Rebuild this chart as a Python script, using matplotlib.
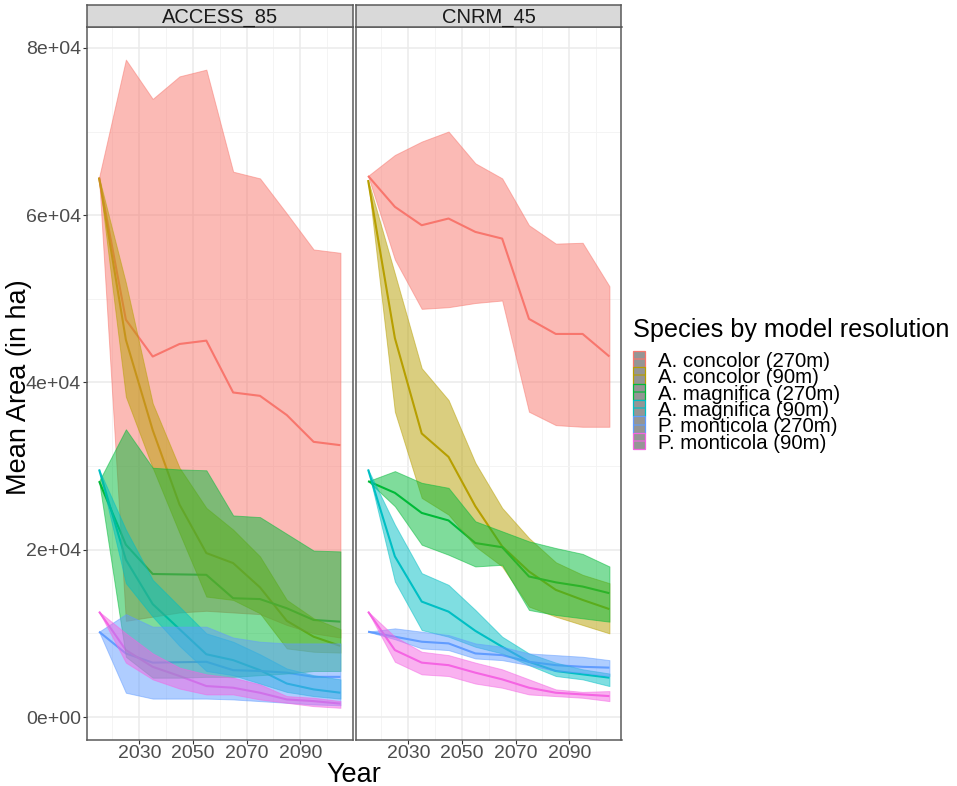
import matplotlib
matplotlib.use('Agg')
import matplotlib.pyplot as plt
from matplotlib.patches import Rectangle
from matplotlib.lines import Line2D

plt.rcParams['font.family'] = ['Liberation Sans', 'DejaVu Sans']

### Data (mean area in ha, with lower / upper bounds)
years = [2015, 2025, 2035, 2045, 2055, 2065, 2075, 2085, 2095, 2105]

species = ['A. concolor (270m)', 'A. concolor (90m)', 'A. magnifica (270m)',
           'A. magnifica (90m)', 'P. monticola (270m)', 'P. monticola (90m)']
colors = ['#F8766D', '#B79F00', '#00BA38', '#00BFC4', '#619CFF', '#F564E3']

# ACCESS_85
acc_conc270_mid = [64500, 47500, 43100, 44600, 45000, 38800, 38400, 36100, 32900, 32500]
acc_conc270_hi = [64500, 78600, 73900, 76600, 77400, 65200, 64400, 60200, 55900, 55500]
acc_conc270_lo = [64500, 11500, 12000, 12500, 12700, 12500, 12300, 11000, 10000, 9500]

acc_conc90_mid = [64500, 45100, 34300, 25400, 19600, 18400, 15500, 11500, 9600, 8500]
acc_conc90_hi = [64500, 51900, 37500, 29800, 25000, 22400, 19200, 14000, 11800, 10500]
acc_conc90_lo = [64500, 38300, 29800, 22000, 14400, 14000, 12400, 8200, 7800, 7700]

acc_mag270_mid = [28200, 20600, 17100, 17050, 17000, 14200, 14100, 13000, 11600, 11400]
acc_mag270_hi = [28200, 34400, 29800, 29600, 29500, 24100, 23900, 21900, 19900, 19800]
acc_mag270_lo = [28200, 7200, 4700, 4700, 4800, 4800, 5000, 5200, 5500, 5500]

acc_mag90_mid = [29600, 18800, 13500, 10500, 7500, 6800, 5600, 4000, 3300, 2900]
acc_mag90_hi = [29600, 22400, 16400, 13200, 10000, 9000, 7500, 5800, 5000, 4500]
acc_mag90_lo = [29600, 16000, 12000, 8500, 5500, 5000, 4000, 3000, 2500, 2200]

acc_mon270_mid = [10200, 7600, 6500, 6550, 6600, 5600, 5500, 5300, 4800, 4800]
acc_mon270_hi = [10200, 12300, 10800, 10800, 10800, 9500, 9000, 8800, 8800, 8800]
acc_mon270_lo = [10200, 2900, 2200, 2200, 2200, 2100, 1900, 1700, 1500, 1400]

acc_mon90_mid = [12600, 8000, 6000, 4900, 3700, 3500, 2900, 2100, 1900, 1600]
acc_mon90_hi = [12600, 10000, 7600, 5900, 5100, 4700, 3900, 2500, 2300, 1900]
acc_mon90_lo = [12600, 6500, 4500, 3400, 2700, 2700, 2100, 1700, 1300, 1100]

# CNRM_45
cn_conc270_mid = [64700, 61000, 58800, 59600, 58000, 57200, 47600, 45800, 45800, 43100]
cn_conc270_hi = [64700, 67200, 68800, 70000, 66200, 64400, 58800, 56600, 56700, 51500]
cn_conc270_lo = [64700, 54700, 48800, 49000, 49500, 49800, 36500, 34900, 34700, 34700]

cn_conc90_mid = [64200, 45300, 33900, 31100, 25200, 20400, 17400, 15200, 14000, 12900]
cn_conc90_hi = [64200, 53000, 41700, 37900, 30400, 25000, 21400, 18500, 17000, 16000]
cn_conc90_lo = [64200, 36500, 26200, 24200, 20400, 18000, 13200, 12000, 11000, 10000]

cn_mag270_mid = [28200, 26800, 24400, 23500, 20800, 20300, 16800, 16100, 15600, 14800]
cn_mag270_hi = [28200, 29400, 28000, 27400, 23400, 22200, 21000, 20200, 19500, 18000]
cn_mag270_lo = [28200, 25200, 20600, 19400, 18000, 18200, 12800, 12200, 11800, 11400]

cn_mag90_mid = [29600, 19200, 13800, 12600, 10300, 8400, 6600, 5500, 5100, 4700]
cn_mag90_hi = [29600, 23000, 17200, 15800, 12800, 9600, 7600, 6500, 5700, 5200]
cn_mag90_lo = [29600, 16200, 10400, 9600, 8400, 7600, 6200, 4900, 4500, 3700]

cn_mon270_mid = [10200, 9600, 9000, 8800, 7600, 7400, 6600, 6200, 6000, 5900]
cn_mon270_hi = [10200, 10600, 10200, 9800, 8800, 8400, 7600, 7400, 7200, 6800]
cn_mon270_lo = [10200, 9300, 8200, 8000, 7000, 6800, 6200, 5500, 5300, 4900]

cn_mon90_mid = [12600, 8000, 6500, 6200, 5300, 4500, 3500, 2900, 2700, 2500]
cn_mon90_hi = [12600, 9600, 7800, 7400, 6500, 5700, 4500, 3300, 3000, 3100]
cn_mon90_lo = [12600, 6600, 5100, 4900, 4000, 3500, 2700, 2500, 2300, 1900]

accessSeries = [(acc_conc270_lo, acc_conc270_mid, acc_conc270_hi),
                (acc_conc90_lo, acc_conc90_mid, acc_conc90_hi),
                (acc_mag270_lo, acc_mag270_mid, acc_mag270_hi),
                (acc_mag90_lo, acc_mag90_mid, acc_mag90_hi),
                (acc_mon270_lo, acc_mon270_mid, acc_mon270_hi),
                (acc_mon90_lo, acc_mon90_mid, acc_mon90_hi)]
cnrmSeries = [(cn_conc270_lo, cn_conc270_mid, cn_conc270_hi),
              (cn_conc90_lo, cn_conc90_mid, cn_conc90_hi),
              (cn_mag270_lo, cn_mag270_mid, cn_mag270_hi),
              (cn_mag90_lo, cn_mag90_mid, cn_mag90_hi),
              (cn_mon270_lo, cn_mon270_mid, cn_mon270_hi),
              (cn_mon90_lo, cn_mon90_mid, cn_mon90_hi)]

### Figure layout (pixel based, 957 x 786)
W, H = 957.0, 786.0
fig = plt.figure(figsize=(W / 100, H / 100), dpi=100)

panelTop, panelBottom = 27.0, 740.0
panelW = 265.5
border = '#5A5A5A'

panels = [(87.0, 'ACCESS_85', accessSeries, True),
          (356.0, 'CNRM_45', cnrmSeries, False)]

for x0, title, series, showY in panels:
    ax = fig.add_axes([x0 / W, 1 - panelBottom / H, panelW / W, (panelBottom - panelTop) / H])
    ax.set_facecolor('white')
    ax.set_xlim(2010.5, 2109.5)
    ax.set_ylim(-2750, 82500)
    ax.set_xticks([2030, 2050, 2070, 2090])
    ax.set_xticks([2020, 2040, 2060, 2080, 2100], minor=True)
    ax.set_yticks([0, 20000, 40000, 60000, 80000])
    ax.set_yticks([10000, 30000, 50000, 70000], minor=True)
    ax.set_yticklabels(['0e+00', '2e+04', '4e+04', '6e+04', '8e+04'])
    ax.grid(which='major', color='#EBEBEB', lw=1.1)
    ax.grid(which='minor', color='#F3F3F3', lw=0.6)
    ax.set_axisbelow(True)
    ax.tick_params(which='minor', length=0)
    ax.tick_params(which='major', length=2.9, width=0.8, color='#333333',
                   labelsize=14, labelcolor='#4D4D4D')
    ax.tick_params(axis='x', pad=1)
    ax.tick_params(axis='y', pad=1.5)
    if not showY:
        ax.tick_params(axis='y', left=False, labelleft=False)
    for s in ax.spines.values():
        s.set_color(border)
        s.set_linewidth(1.1)

    # lines first, ribbons drawn over them (as in the original)
    for (lo, mid, hi), c in zip(series, colors):
        ax.plot(years, mid, color=c, lw=1.5, zorder=2, solid_capstyle='butt')
    for (lo, mid, hi), c in zip(series, colors):
        ax.fill_between(years, lo, hi, facecolor=c, edgecolor=c, alpha=0.5, lw=0.7, zorder=3)

    # facet strip
    sax = fig.add_axes([x0 / W, 1 - panelTop / H, panelW / W, 22 / H])
    sax.set_facecolor('#D9D9D9')
    sax.set_xticks([])
    sax.set_yticks([])
    for s in sax.spines.values():
        s.set_color(border)
        s.set_linewidth(1.1)
    sax.text(0.5, 0.45, title, ha='center', va='center', fontsize=14.5,
             color='#1A1A1A', transform=sax.transAxes)

### Axis titles
fig.text(19 / W, 1 - 387 / H, 'Mean Area (in ha)', rotation=90, ha='center', va='center',
         fontsize=19.5)
fig.text((87 + 621.5) / 2 / W, 1 - 781.5 / H, 'Year', ha='center', va='baseline', fontsize=19.5)

### Legend
fig.text(633 / W, 1 - 336.7 / H, 'Species by model resolution', fontsize=18.2, va='baseline')
keyTop, keyH = 350.7, 16.45
for i, (lab, c) in enumerate(zip(species, colors)):
    top = keyTop + keyH * i
    fig.add_artist(Rectangle((633 / W, 1 - (top + keyH) / H), 12 / W, keyH / H,
                             facecolor='#959595', edgecolor=c, lw=0.9,
                             transform=fig.transFigure))
    yc = 1 - (top + keyH / 2) / H
    fig.add_artist(Line2D([633.5 / W, 644.5 / W], [yc, yc], color=c, lw=1.4, alpha=0.6,
                          transform=fig.transFigure))
    fig.text(658 / W, 1 - (366.7 + keyH * i) / H, lab, fontsize=14.7, va='baseline')

plt.savefig('out.png', dpi=100)
